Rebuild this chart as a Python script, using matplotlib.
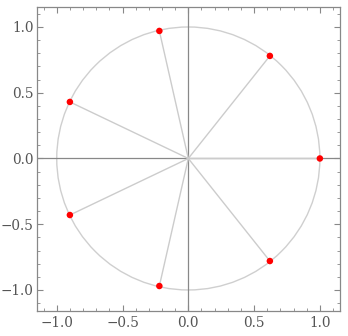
import matplotlib
matplotlib.use("Agg")
import matplotlib.pyplot as plt
from matplotlib.patches import Circle
from matplotlib.ticker import MultipleLocator

# 7 points on the unit circle
px = [1.00, 0.62, -0.22, -0.90, -0.90, -0.22, 0.62]
py = [0.00, 0.78, 0.97, 0.43, -0.43, -0.97, -0.78]
ticks = [-1.0, -0.5, 0.0, 0.5, 1.0]
tick_labels = ["\u22121.0", "\u22120.5", "0.0", "0.5", "1.0"]

plt.rcParams['font.family'] = ['DejaVu Serif']
fig = plt.figure(figsize=(3.48, 3.36), dpi=100)
ax = fig.add_axes([37/348, 1-311/336, 303/348, 304/336])

ax.add_patch(Circle((0, 0), 1.0, fill=False, edgecolor='#cfcfcf', lw=1.0, zorder=1))
for x, y in zip(px, py):
    ax.plot([0, x], [0, y], color='#cccccc', lw=1.0, zorder=2)
ax.axhline(0, color='#888888', lw=0.9, zorder=1.5)
ax.axvline(0, color='#888888', lw=0.9, zorder=1.5)
ax.scatter(px, py, s=22, color='#ff0000', edgecolors='none', zorder=3)

ax.set_xlim(-1.15, 1.153)
ax.set_ylim(-1.16, 1.152)
ax.set_xticks(ticks)
ax.set_xticklabels(tick_labels)
ax.set_yticks(ticks)
ax.set_yticklabels(tick_labels)
ax.xaxis.set_minor_locator(MultipleLocator(0.1))
ax.yaxis.set_minor_locator(MultipleLocator(0.1))
ax.tick_params(which='both', direction='in', top=True, right=True, colors='#888888',
               labelcolor='#555555', labelsize=9.8)
ax.tick_params(which='major', length=4, width=0.8)
ax.tick_params(axis='y', which='major', pad=2.5)
ax.tick_params(which='minor', length=2, width=0.6)
for s in ax.spines.values():
    s.set_color('#888888')
    s.set_linewidth(0.9)

fig.savefig("out.png", dpi=100)
